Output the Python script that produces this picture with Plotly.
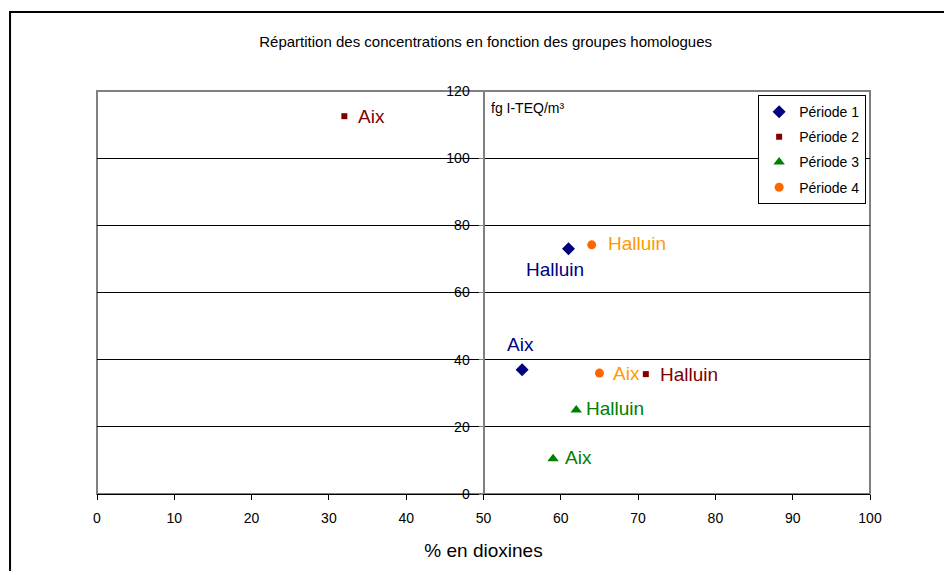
import plotly.graph_objects as go

# ---- data ----
series_names = ["Période 1", "Période 2", "Période 3", "Période 4"]
sites = ["Aix", "Halluin"]
p1_x = [55.0, 61.0]
p1_y = [37.0, 73.0]
p2_x = [32.0, 71.0]
p2_y = [112.5, 35.7]
p3_x = [59.0, 62.0]
p3_y = [10.5, 25.0]
p4_x = [65.0, 64.0]
p4_y = [36.0, 74.2]
x_ticks = [0, 10, 20, 30, 40, 50, 60, 70, 80, 90, 100]
y_ticks = [0, 20, 40, 60, 80, 100, 120]

FONT = "Liberation Sans, Arial, sans-serif"

marker_styles = [
    dict(symbol="diamond", color="#000080", size=10),
    dict(symbol="square", color="#800000", size=6),
    dict(symbol="triangle-up", color="#008000", size=10),
    dict(symbol="circle", color="#FF6600", size=9),
]
label_colors = ["#000080", "#800000", "#008000", "#FF9900"]
series_x = [p1_x, p2_x, p3_x, p4_x]
series_y = [p1_y, p2_y, p3_y, p4_y]

# label placement per series/site: (xanchor, xshift, yshift)
label_pos = [
    [("center", -2, 25), ("center", -14, -21)],
    [("left", 12, 0), ("left", 12, 0)],
    [("left", 10, 1), ("left", 8, 2)],
    [("left", 12, 0), ("left", 14, 1)],
]

fig = go.Figure()
annotations = []
for i, name in enumerate(series_names):
    fig.add_trace(go.Scatter(
        x=series_x[i], y=series_y[i], mode="markers", name=name,
        marker=dict(symbol=marker_styles[i]["symbol"], color=marker_styles[i]["color"],
                    size=marker_styles[i]["size"]),
        legendgroup=name,
    ))
    for j, site in enumerate(sites):
        xa, xs, ys = label_pos[i][j]
        annotations.append(dict(
            x=series_x[i][j], y=series_y[i][j], xref="x", yref="y",
            text=site, showarrow=False, xanchor=xa, yanchor="middle",
            xshift=xs, yshift=ys,
            font=dict(family=FONT, size=19, color=label_colors[i]),
        ))

annotations.append(dict(
    x=0.5, y=1, xref="paper", yref="paper", text="fg I-TEQ/m³",
    showarrow=False, xanchor="left", yanchor="top", xshift=5, yshift=-7,
    font=dict(family=FONT, size=14, color="black"),
))

shapes = [
    # plot area border
    dict(type="rect", xref="paper", yref="paper", x0=0, y0=0, x1=1, y1=1,
         line=dict(color="#808080", width=2), layer="below"),
    # outer chart border (cut off at right/bottom)
    dict(type="rect", xref="paper", yref="paper", x0=-0.1125, y0=-0.3, x1=1.2, y1=1.196,
         line=dict(color="black", width=2), fillcolor="rgba(0,0,0,0)"),
]

fig.update_layout(
    width=944, height=563,
    margin=dict(l=89, r=82, t=83, b=77),
    paper_bgcolor="white", plot_bgcolor="white",
    font=dict(family=FONT, size=14, color="black"),
    title=dict(text="Répartition des concentrations en fonction des groupes homologues",
               x=0.506, xanchor="center", y=0.94, yanchor="middle",
               font=dict(family=FONT, size=15, color="black")),
    xaxis=dict(range=[0, 100], tickvals=x_ticks, showgrid=False, zeroline=False,
               showline=True, linecolor="black", linewidth=1,
               ticks="outside", ticklen=5, tickcolor="black",
               ticklabelstandoff=6,
               tickfont=dict(size=14),
               title=dict(text="% en dioxines", font=dict(size=19), standoff=18)),
    yaxis=dict(range=[0, 120], tickvals=y_ticks, anchor="free", position=0.5,
               showgrid=True, gridcolor="black", gridwidth=1, zeroline=False,
               showline=True, linecolor="#808080", linewidth=2,
               ticks="outside", ticklen=4, tickcolor="#808080",
               ticklabelstandoff=6,
               tickfont=dict(size=14)),
    legend=dict(x=0.995, y=0.99, xanchor="right", yanchor="top",
                bgcolor="white", bordercolor="black", borderwidth=1,
                font=dict(family=FONT, size=14), tracegroupgap=4,
                itemwidth=30),
    showlegend=True,
    annotations=annotations,
    shapes=shapes,
)

fig.write_html("out.html")
